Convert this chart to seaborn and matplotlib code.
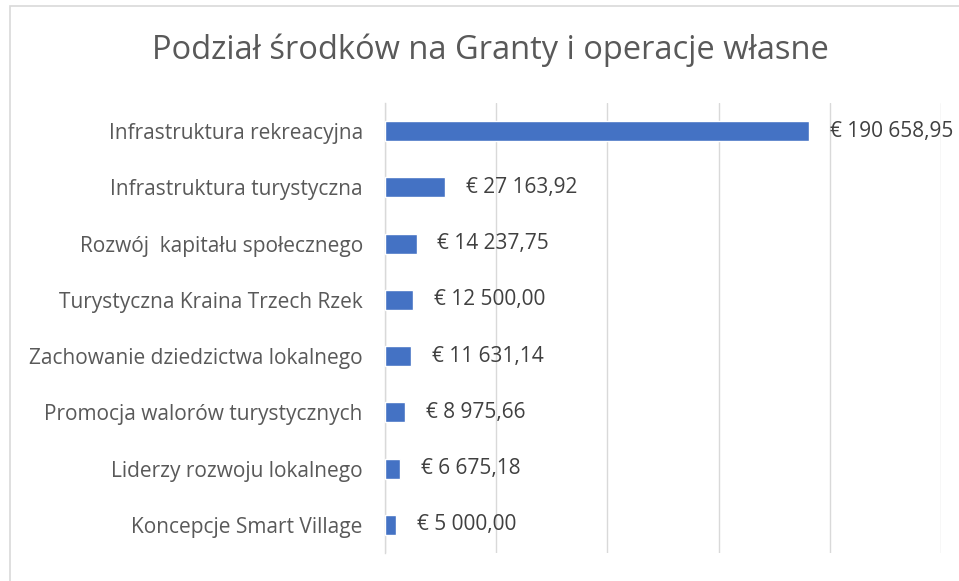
import pandas as pd
import seaborn as sns
import matplotlib.pyplot as plt
from matplotlib.patches import Rectangle

categories = [
    "Infrastruktura rekreacyjna",
    "Infrastruktura turystyczna",
    "Rozwój  kapitału społecznego",
    "Turystyczna Kraina Trzech Rzek",
    "Zachowanie dziedzictwa lokalnego",
    "Promocja walorów turystycznych",
    "Liderzy rozwoju lokalnego",
    "Koncepcje Smart Village",
]
amounts = [190658.95, 27163.92, 14237.75, 12500.00, 11631.14, 8975.66, 6675.18, 5000.00]
x_ticks = [0, 50000, 100000, 150000, 200000, 250000]

title = "Podział środków na Granty i operacje własne"


def euro(v):
    whole, frac = f"{v:.2f}".split(".")
    whole = f"{int(whole):,}".replace(",", " ")
    return f"€ {whole},{frac}"


df = pd.DataFrame({"cat": categories, "amount": amounts})

sns.set_theme(style="white")
plt.rcParams['font.family'] = ['Open Sans', 'DejaVu Sans']

fig = plt.figure(figsize=(9.59, 5.81), dpi=100)
ax = fig.add_axes([385 / 959, 1 - 553 / 581, (941 - 385) / 959, (553 - 103) / 581])

sns.barplot(data=df, x="amount", y="cat", orient="h", color="#4472C4",
            width=0.355, saturation=1, ax=ax, zorder=3)

ax.set_xlim(0, 250000)
ax.set_xticks(x_ticks)
ax.set_xticklabels([])
ax.grid(axis="x", color="#D9D9D9", linewidth=1, zorder=0)
ax.grid(axis="y", visible=False)
for s in ["top", "right", "bottom"]:
    ax.spines[s].set_visible(False)
ax.spines["left"].set_color("#D9D9D9")
ax.spines["left"].set_linewidth(1)
ax.tick_params(axis="both", length=0)
ax.tick_params(axis="y", pad=16, labelsize=15, labelcolor="#595959")
ax.set_xlabel("")
ax.set_ylabel("")

for i, v in enumerate(amounts):
    ax.annotate(euro(v), (v, i), xytext=(15, 0), textcoords="offset points",
                va="center", ha="left", fontsize=15, color="#404040",
                annotation_clip=False)

fig.text(490 / 959, 1 - 50 / 581, title, ha="center", va="center",
         fontsize=23.5, color="#595959")

# chart frame (only top and left edges are visible in the crop)
fig.patches.append(Rectangle((10 / 959, -0.1), 1.1, 1 - 6 / 581 + 0.1,
                             transform=fig.transFigure, fill=False,
                             edgecolor="#D9D9D9", linewidth=1.2))

fig.savefig("out.png", dpi=100)
